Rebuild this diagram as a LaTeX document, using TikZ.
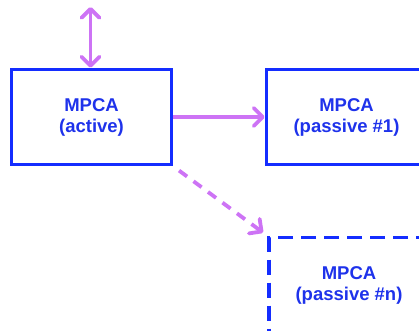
\documentclass[tikz,border=0pt]{standalone}
\usepackage{fontspec}
\setmainfont{Liberation Sans}
\usetikzlibrary{arrows.meta,calc}
\definecolor{boxblue}{RGB}{20,45,255}
\definecolor{textblue}{RGB}{30,50,235}
\definecolor{linkviolet}{RGB}{205,115,245}
\tikzset{
  x=1pt, y=-1pt,
  mpca/.style={draw=boxblue, line width=3.8pt, minimum width=160pt, minimum height=95pt,
    text=textblue, font=\fontsize{18.5}{21}\selectfont\bfseries, align=center, inner sep=0pt},
  standby/.style={mpca, dash pattern=on 15pt off 8pt},
  barb/.tip={Straight Barb[length=9pt, width=18pt, line width=3.8pt, round]},
  link/.style={draw=linkviolet, line width=3.8pt, -barb},
  duallink/.style={link, barb-barb},
}
\begin{document}
\begin{tikzpicture}
\useasboundingbox (0,0) rectangle (419,330);
\node[mpca] (act) at (91.5,117) {MPCA\\(active)};
\node[mpca] (pas1) at (346.5,117) {MPCA\\(passive \#1)};
\node[standby] (pasn) at (349,285) {MPCA\\(passive \#n)};
\coordinate (ext) at (90.5,7);
\draw[duallink] (ext) -- (ext |- act.north);
\draw[link] (act.east) -- (pas1.west);
\draw[link, dash pattern=on 10pt off 8pt, shorten <=7pt, shorten >=5pt] (act.south east) -- (pasn.north west);
\end{tikzpicture}
\end{document}
